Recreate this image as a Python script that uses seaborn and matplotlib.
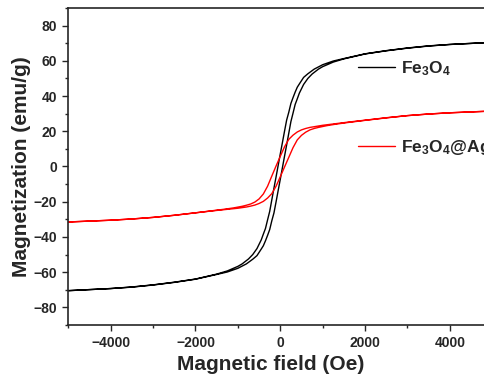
import numpy as np
import pandas as pd
import seaborn as sns
import matplotlib
matplotlib.use("Agg")
import matplotlib.pyplot as plt
from matplotlib.lines import Line2D

# ---- data (field in Oe, magnetization in emu/g) ----
fe_desc_H = [5000, 4500, 4000, 3500, 3000, 2500, 2000, 1500, 1250, 1000, 800, 650, 550, 450, 400,
             350, 300, 250, 200, 150, 100, 50, 0, -55, -100, -150, -200, -250, -300, -350, -400,
             -450, -550, -650, -750, -900, -1000, -1250, -1500, -2000, -2500, -3000, -3500,
             -4000, -4500, -5000]
fe_desc_M = [70.5, 69.9, 69.3, 68.5, 67.3, 65.8, 64.0, 61.3, 59.9, 57.8, 55.3, 52.65, 50.6, 46.9, 45.0,
             42.2, 39.1, 35.8, 30.8, 26.4, 20.1, 13.6, 7.2, 0.0, -5.9, -12.3, -18.9, -25.5, -30.3, -35.2, -38.4,
             -41.7, -46.6, -50.0, -52.5, -55.3, -56.7, -59.3, -61.1, -63.9, -65.7, -67.2, -68.4,
             -69.3, -69.9, -70.5]
fe_asc_H = [-5000, -4500, -4000, -3500, -3000, -2500, -2000, -1500, -1250, -1000, -800, -650, -550, -450,
            -400, -350, -300, -250, -200, -150, -100, -50, 0, 55, 100, 150, 200, 250, 300, 350, 400,
            450, 550, 650, 750, 900, 1000, 1250, 1500, 2000, 2500, 3000, 3500, 4000, 4500, 5000]
fe_asc_M = [-70.5, -69.9, -69.3, -68.5, -67.3, -65.8, -64.0, -61.3, -59.9, -57.8, -55.3, -52.65, -50.6, -46.9,
            -45.0, -42.2, -39.1, -35.8, -30.8, -26.4, -20.1, -13.6, -7.2, 0.0, 5.9, 12.3, 18.9, 25.5, 30.3, 35.2, 38.4,
            41.7, 46.6, 50.0, 52.5, 55.3, 56.7, 59.3, 61.1, 63.9, 65.7, 67.2, 68.4, 69.3, 69.9, 70.5]

ag_desc_H = [5000, 4500, 4000, 3500, 3000, 2500, 2000, 1600, 1200, 1000, 800, 700, 600, 500, 400, 300,
             200, 100, 0, -105, -200, -300, -400, -500, -600, -700, -800, -900, -1100, -1300, -1600,
             -2000, -2500, -3000, -3500, -4000, -4500, -5000]
ag_desc_M = [31.5, 31.0, 30.5, 29.8, 28.9, 27.7, 26.3, 25.2, 24.0, 23.4, 22.6, 22.2, 21.6, 20.8, 19.6, 17.8,
             15.4, 11.2, 5.8, 0.0, -5.4, -11.2, -15.6, -18.4, -20.2, -21.3, -22.0, -22.6, -23.5, -24.2, -25.1,
             -26.3, -27.7, -28.9, -29.8, -30.5, -31.0, -31.5]
ag_asc_H = [-5000, -4500, -4000, -3500, -3000, -2500, -2000, -1600, -1200, -1000, -800, -700, -600, -500,
            -400, -300, -200, -100, 0, 105, 200, 300, 400, 500, 600, 700, 800, 900, 1100, 1300, 1600,
            2000, 2500, 3000, 3500, 4000, 4500, 5000]
ag_asc_M = [-31.5, -31.0, -30.5, -29.8, -28.9, -27.7, -26.3, -25.2, -24.2, -23.7, -23.0, -22.5, -21.9, -21.0,
            -19.8, -17.9, -15.4, -11.2, -5.8, 0.0, 5.2, 10.7, 15.1, 17.7, 19.5, 20.8, 21.6, 22.2, 23.2, 24.0, 25.0,
            26.2, 27.6, 28.9, 29.8, 30.5, 31.0, 31.5]

samples = ["Fe3O4", "Fe3O4@Ag"]
labels = [r"$\mathbf{Fe_3O_4}$", r"$\mathbf{Fe_3O_4@Ag}$"]
colors = ["#000000", "#ff0000"]
x_ticks = [-4000, -2000, 0, 2000, 4000]
y_ticks = [-80, -60, -40, -20, 0, 20, 40, 60, 80]

# ---- build a long table (each loop drawn as one continuous path) ----
rows = []
for name, H1, M1, H2, M2 in [("Fe3O4", fe_desc_H, fe_desc_M, fe_asc_H, fe_asc_M),
                             ("Fe3O4@Ag", ag_desc_H, ag_desc_M, ag_asc_H, ag_asc_M)]:
    for h, m in zip(list(H1) + list(H2), list(M1) + list(M2)):
        rows.append({"H": h, "M": m, "sample": name})
df = pd.DataFrame(rows)

sns.set_style("ticks")
plt.rcParams["font.family"] = ["Liberation Sans", "DejaVu Sans"]
plt.rcParams["font.weight"] = "bold"
plt.rcParams["mathtext.fontset"] = "custom"
plt.rcParams["mathtext.rm"] = "Liberation Sans"
plt.rcParams["mathtext.bf"] = "Liberation Sans:bold"

fig = plt.figure(figsize=(4.84, 3.77), dpi=100)
W, Hh = 484, 377
ax = fig.add_axes([68.3 / W, 1 - 325 / Hh, (492.3 - 68.3) / W, (325 - 8) / Hh])

sns.lineplot(data=df, x="H", y="M", hue="sample", hue_order=samples,
             palette=dict(zip(samples, colors)), sort=False, estimator=None,
             linewidth=1.0, legend=False, ax=ax)

ax.set_xlim(-5000, 5000)
ax.set_ylim(-90, 90)
ax.set_xticks(x_ticks)
ax.set_yticks(y_ticks)
ax.set_xticks(np.arange(-5000, 5001, 1000), minor=True)
ax.set_yticks(np.arange(-90, 91, 10), minor=True)
ax.tick_params(which="major", direction="out", length=4.5, width=1.0, labelsize=10)
ax.tick_params(which="minor", direction="out", length=2.5, width=1.0)
for lab in ax.get_xticklabels() + ax.get_yticklabels():
    lab.set_fontweight("bold")
for s in ax.spines.values():
    s.set_linewidth(1.2)
ax.spines["right"].set_visible(False)

ax.set_xlabel("Magnetic field (Oe)", fontsize=15, fontweight="bold", labelpad=4)
ax.set_ylabel("Magnetization (emu/g)", fontsize=15, fontweight="bold", labelpad=2)
ax.xaxis.set_label_coords((271 - 68.3) / 424, -0.095)
ax.xaxis.label.set_va("top")

handles = [Line2D([], [], color=c, lw=1.0) for c in colors]
leg = ax.legend(handles, labels, loc="upper left", bbox_to_anchor=(358 / W, 1 - 59 / Hh),
                bbox_transform=fig.transFigure, frameon=False, fontsize=12.5,
                borderpad=0, borderaxespad=0, handlelength=2.15, handletextpad=0.3,
                labelspacing=3.5)

fig.savefig("out.png", dpi=100)
